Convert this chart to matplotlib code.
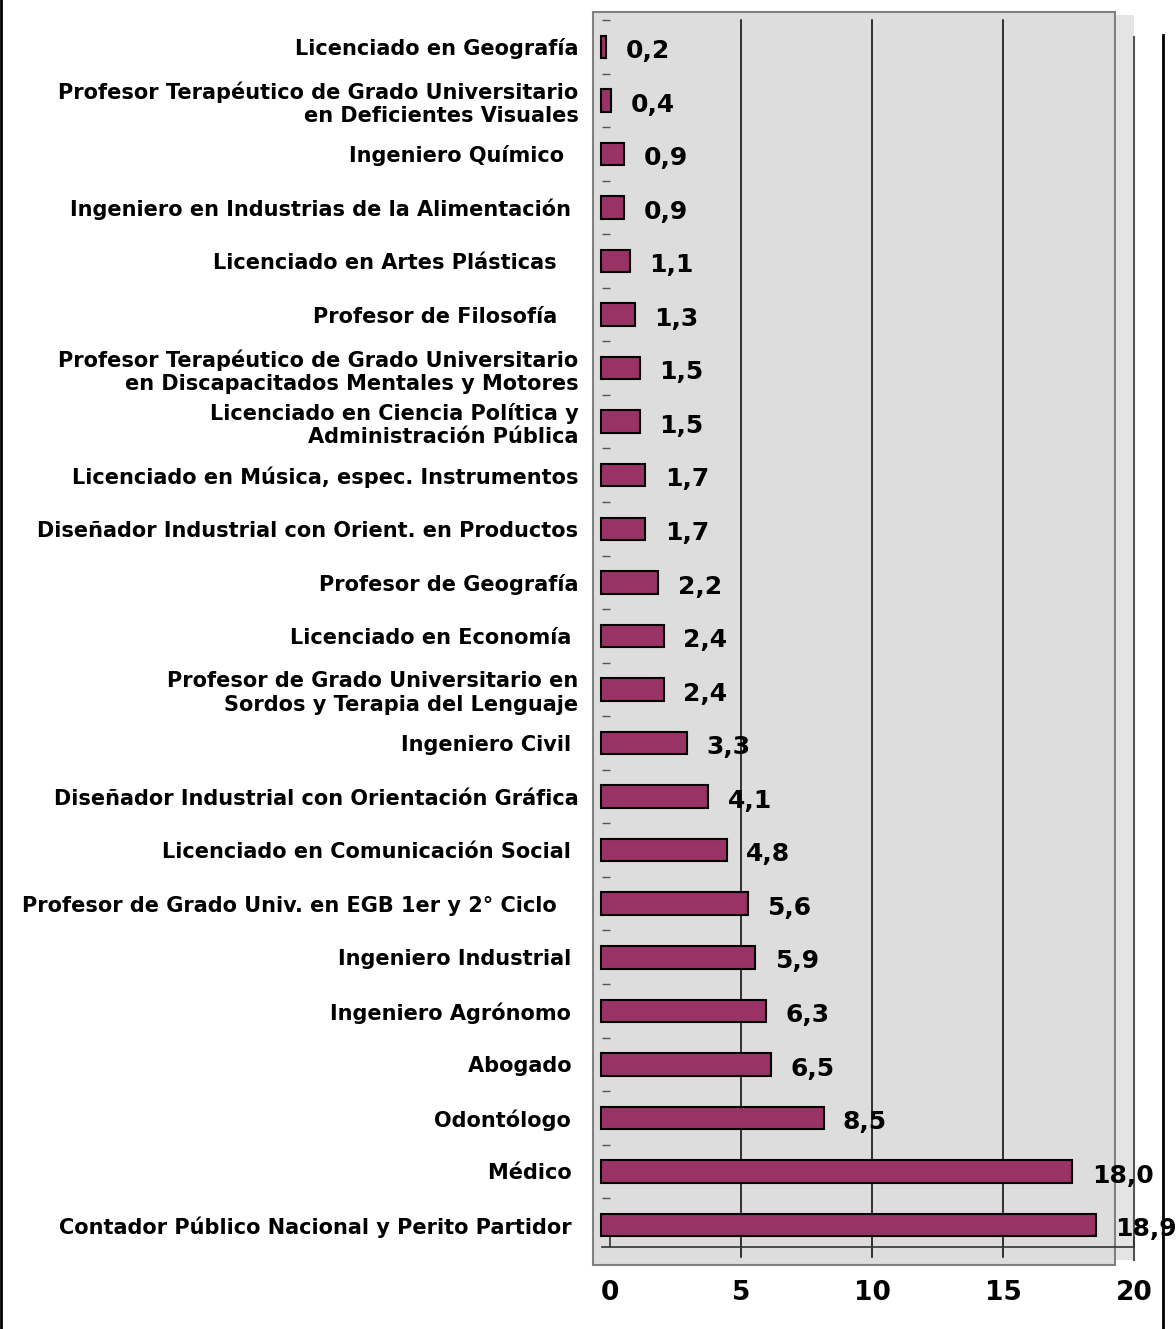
import numpy as np
import matplotlib
matplotlib.use('Agg')
import matplotlib.pyplot as plt
from matplotlib.patches import Rectangle
from matplotlib.lines import Line2D

# carreras (de arriba hacia abajo) y porcentajes
carreras = [
    'Licenciado en Geografía',
    'Profesor Terapéutico de Grado Universitario\nen Deficientes Visuales',
    'Ingeniero Químico  ',
    'Ingeniero en Industrias de la Alimentación ',
    'Licenciado en Artes Plásticas   ',
    'Profesor de Filosofía   ',
    'Profesor Terapéutico de Grado Universitario\nen Discapacitados Mentales y Motores',
    'Licenciado en Ciencia Política y\nAdministración Pública',
    'Licenciado en Música, espec. Instrumentos',
    'Diseñador Industrial con Orient. en Productos',
    'Profesor de Geografía',
    'Licenciado en Economía ',
    'Profesor de Grado Universitario en\nSordos y Terapia del Lenguaje',
    'Ingeniero Civil ',
    'Diseñador Industrial con Orientación Gráfica',
    'Licenciado en Comunicación Social ',
    'Profesor de Grado Univ. en EGB 1er y 2° Ciclo   ',
    'Ingeniero Industrial ',
    'Ingeniero Agrónomo ',
    'Abogado ',
    'Odontólogo ',
    'Médico ',
    'Contador Público Nacional y Perito Partidor ',
]
porcentajes = [0.2, 0.4, 0.9, 0.9, 1.1, 1.3, 1.5, 1.5, 1.7, 1.7, 2.2, 2.4, 2.4,
               3.3, 4.1, 4.8, 5.6, 5.9, 6.3, 6.5, 8.5, 18.0, 18.9]
xticks = [0, 5, 10, 15, 20]

plt.rcParams['font.family'] = 'DejaVu Sans'
plt.rcParams['font.weight'] = 'bold'

W, H = 1176, 1329


def fx(px):
    return px / W


def fy(py):
    return 1 - py / H


fig = plt.figure(figsize=(W / 100, H / 100), dpi=100)

# fondo gris del area de grafico (estilo Excel)
fig.add_artist(Rectangle((fx(593), fy(1265)), fx(1115) - fx(593), fy(12) - fy(1265),
                         transform=fig.transFigure, facecolor='#DDDDDD',
                         edgecolor='#808080', lw=1.5, zorder=0))
fig.add_artist(Rectangle((fx(1116), fy(1260)), fx(1134) - fx(1116), fy(15) - fy(1260),
                         transform=fig.transFigure, facecolor='#E4E4E4',
                         edgecolor='none', zorder=0))
fig.add_artist(Line2D([fx(1134), fx(1134)], [fy(37), fy(1260)],
                      transform=fig.transFigure, color='#555555', lw=1.5, zorder=0))
# bordes de la pagina
fig.add_artist(Line2D([fx(1), fx(1)], [0, 1], transform=fig.transFigure,
                      color='black', lw=2))
fig.add_artist(Line2D([fx(1163), fx(1163)], [0, fy(35)], transform=fig.transFigure,
                      color='black', lw=2))

ax = fig.add_axes([fx(593), fy(1247), fx(1134) - fx(593), fy(20) - fy(1247)])
ax.patch.set_facecolor('none')

# spines first: set_position resets the ticks
ax.spines['left'].set_position(('data', -0.3))
ax.spines['left'].set_color('none')
ax.spines['top'].set_visible(False)
ax.spines['right'].set_visible(False)
ax.spines['bottom'].set_bounds(-0.3, 20)
ax.spines['bottom'].set_color('#333333')
ax.spines['bottom'].set_linewidth(1.2)

n = len(carreras)
pos = np.arange(n)
shift = -0.35

ax.barh(pos, porcentajes, left=shift, height=0.42, color='#993366',
        edgecolor='black', linewidth=1.5, zorder=3)

for i, v in enumerate(porcentajes):
    ax.annotate('{:.1f}'.format(v).replace('.', ','), (shift + v, i),
                xytext=(14, -3), textcoords='offset points', fontsize=18,
                fontweight='bold', va='center', ha='left', annotation_clip=False)

for x in xticks[1:-1]:
    ax.axvline(x, ymin=-0.008, ymax=1, color='black', lw=1.1, zorder=1, clip_on=False)

ax.set_xlim(-0.65, 20)
ax.set_ylim(n - 1 + 0.41, -0.485)

ax.set_xticks(xticks)
ax.set_xticklabels([str(t) for t in xticks], fontsize=19, fontweight='bold')
ax.tick_params(axis='x', direction='in', length=7, width=1.2, color='#333333', pad=24)

ax.set_yticks(pos)
ax.set_yticklabels(carreras, fontsize=15, fontweight='bold')
ax.set_yticks(np.arange(-0.5, n - 1), minor=True)
ax.tick_params(axis='y', which='major', length=0, pad=17, labelsize=15)
ax.tick_params(axis='y', which='minor', direction='in', length=6, width=1, color='#555555')

fig.savefig('out.png', dpi=100)
